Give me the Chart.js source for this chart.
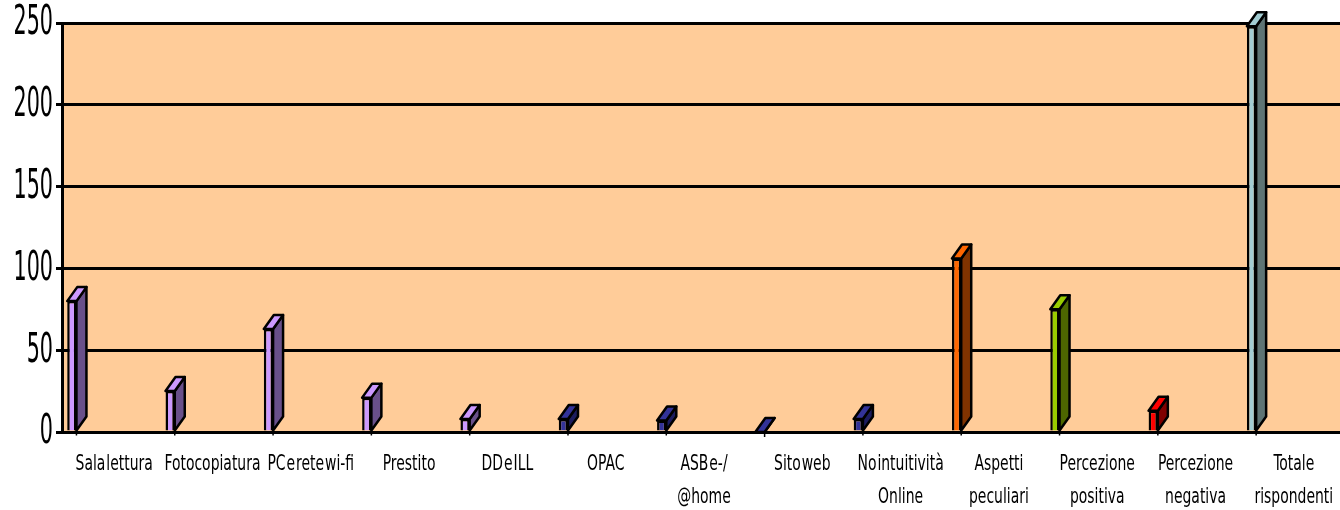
<!DOCTYPE html>
<html>
<head>
<meta charset="utf-8">
<script src="https://cdn.jsdelivr.net/npm/chart.js@4/dist/chart.umd.min.js"></script>
<style>
  html, body { margin: 0; padding: 0; background: #ffffff; }
  #wrap { width: 1340px; height: 510px; }
</style>
</head>
<body>
<div id="wrap"><canvas id="chart" width="1340" height="510"></canvas></div>
<script>
// Survey answers per service (number of respondents)
const categories = [
  ['Sala lettura'], ['Fotocopiatura'], ['PC e rete wi-fi'], ['Prestito'], ['DD e ILL'],
  ['OPAC'], ['ASB e-/', '@home'], ['Sito web'], ['No intuitività', 'Online'],
  ['Aspetti', 'peculiari'], ['Percezione', 'positiva'], ['Percezione', 'negativa'],
  ['Totale', 'rispondenti']
];
const responses = [80, 25, 63, 21, 8, 8, 7, 0, 8, 106, 75, 13, 248];
const yTicks = [0, 50, 100, 150, 200, 250];

// face colours: front, side
const frontColors = ['#CC99FF', '#CC99FF', '#CC99FF', '#CC99FF', '#CC99FF',
  '#333399', '#333399', '#333399', '#333399', '#FF6600', '#99CC00', '#FF0000', '#A3CDD3'];
const sideColors = ['#69508A', '#69508A', '#69508A', '#69508A', '#69508A',
  '#1C1C5E', '#1C1C5E', '#1C1C5E', '#1C1C5E', '#803300', '#4D6600', '#800000', '#5E7474'];

const FONT = "'Liberation Sans Narrow', 'DejaVu Sans Condensed', 'Liberation Sans', Arial, sans-serif";
const DEPTH_X = 10, DEPTH_Y = 14;

const plotBackground = {
  id: 'plotBackground',
  beforeDraw(chart) {
    const { ctx, chartArea: a } = chart;
    ctx.save();
    ctx.fillStyle = '#FFCC99';
    ctx.fillRect(a.left, a.top, a.right - a.left, a.bottom - a.top);
    ctx.restore();
  }
};

// side and top faces of each bar, plus the tick labels
const bars3d = {
  id: 'bars3d',
  afterDatasetsDraw(chart) {
    const { ctx } = chart;
    const meta = chart.getDatasetMeta(0);
    ctx.save();
    ctx.lineJoin = 'round';
    ctx.strokeStyle = '#000';
    ctx.lineWidth = 2.5;
    meta.data.forEach((bar, i) => {
      const p = bar.getProps(['x', 'y', 'base', 'width'], true);
      const l = p.x - p.width / 2, r = p.x + p.width / 2;
      const top = p.y, bot = p.base;
      // side face
      ctx.beginPath();
      ctx.moveTo(r, bot);
      ctx.lineTo(r + DEPTH_X, bot - DEPTH_Y);
      ctx.lineTo(r + DEPTH_X, top - DEPTH_Y);
      ctx.lineTo(r, top);
      ctx.closePath();
      ctx.fillStyle = sideColors[i];
      ctx.fill();
      ctx.stroke();
      // top face
      ctx.beginPath();
      ctx.moveTo(l, top);
      ctx.lineTo(l + DEPTH_X, top - DEPTH_Y);
      ctx.lineTo(r + DEPTH_X, top - DEPTH_Y);
      ctx.lineTo(r, top);
      ctx.closePath();
      ctx.fillStyle = frontColors[i];
      ctx.fill();
      ctx.stroke();
      // small mark under the axis
      ctx.lineWidth = 1.5;
      ctx.beginPath();
      ctx.moveTo(r, bot);
      ctx.lineTo(r, bot + 5);
      ctx.stroke();
      ctx.lineWidth = 2.5;
    });
    ctx.restore();
  },
  afterDraw(chart) {
    const { ctx } = chart;
    const ys = chart.scales.y, xs = chart.scales.x;
    ctx.save();
    ctx.fillStyle = '#000';
    // value axis labels
    ctx.font = '23px ' + FONT;
    ctx.textAlign = 'right';
    ctx.textBaseline = 'middle';
    yTicks.forEach(v => {
      const y = ys.getPixelForValue(v);
      ctx.save();
      ctx.translate(53, y);
      ctx.scale(1, 1.75);
      ctx.fillText(String(v), 0, 0.5);
      ctx.restore();
    });
    // category labels
    ctx.font = '15.5px ' + FONT;
    ctx.textAlign = 'center';
    ctx.textBaseline = 'alphabetic';
    try { ctx.wordSpacing = '-3.5px'; } catch (e) {}
    categories.forEach((lines, i) => {
      const x = xs.getPixelForTick(i) + 3;
      lines.forEach((t, k) => {
        ctx.save();
        ctx.translate(x, 470 + k * 33);
        ctx.scale(1, 1.33);
        ctx.fillText(t, 0, 0);
        ctx.restore();
      });
    });
    ctx.restore();
  }
};

const empty = categories.map(() => null);

new Chart(document.getElementById('chart'), {
  type: 'bar',
  data: {
    labels: categories,
    datasets: [
      { data: responses, backgroundColor: frontColors, borderColor: '#000', borderWidth: 2.5 },
      { data: empty }, { data: empty }, { data: empty }, { data: empty }
    ]
  },
  options: {
    responsive: false,
    animation: false,
    events: [],
    layout: { padding: { top: 23, right: 0, left: 0, bottom: 0 } },
    categoryPercentage: 1.0,
    barPercentage: 0.47,
    plugins: { legend: { display: false }, tooltip: { enabled: false } },
    scales: {
      x: {
        offset: true,
        grid: { display: false },
        border: { display: true, color: '#000', width: 3 },
        ticks: { display: false },
        afterFit(s) { s.height = 78; }
      },
      y: {
        min: 0, max: 250,
        ticks: { display: false, stepSize: 50 },
        grid: { color: '#000', lineWidth: 3, tickLength: 6, drawTicks: true },
        border: { display: true, color: '#000', width: 3 },
        afterFit(s) { s.width = 62; }
      }
    }
  },
  plugins: [plotBackground, bars3d]
});
</script>
</body>
</html>
